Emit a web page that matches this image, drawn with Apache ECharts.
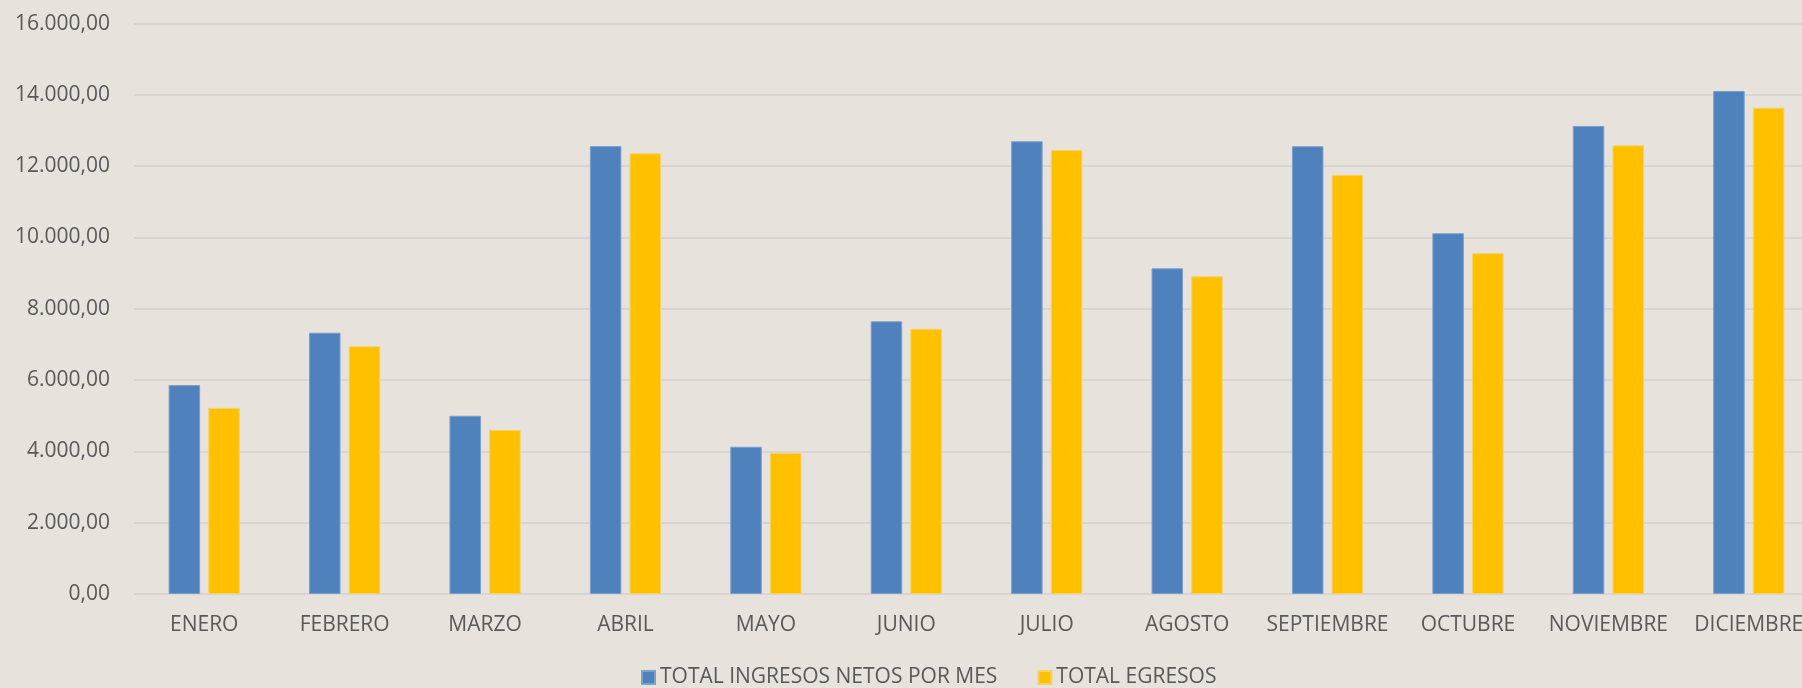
<!DOCTYPE html>
<html>
<head>
<meta charset="utf-8">
<script src="https://cdn.jsdelivr.net/npm/echarts@6/dist/echarts.min.js"></script>
<style>
  html, body { margin: 0; padding: 0; background: #e7e2dc; }
  #main { width: 1802px; height: 688px; }
</style>
</head>
<body>
<div id="main"></div>
<script>
// datos del gráfico
var meses = ["ENERO", "FEBRERO", "MARZO", "ABRIL", "MAYO", "JUNIO", "JULIO", "AGOSTO", "SEPTIEMBRE", "OCTUBRE", "NOVIEMBRE", "DICIEMBRE"];
var ingresos = [5860, 7330, 5000, 12565, 4130, 7650, 12700, 9135, 12560, 10120, 13130, 14110];
var egresos = [5220, 6950, 4600, 12360, 3955, 7440, 12455, 8910, 11755, 9560, 12585, 13640];
var nombreIngresos = "TOTAL INGRESOS NETOS POR MES";
var nombreEgresos = "TOTAL EGRESOS";

function formatoNumero(v) {
  // 16000 -> "16.000,00"
  var s = String(Math.round(v));
  s = s.replace(/\B(?=(\d{3})+(?!\d))/g, ".");
  return s + ",00";
}

var chart = echarts.init(document.getElementById("main"));
var fuente = "'Open Sans', 'Noto Sans', sans-serif";

var option = {
  backgroundColor: "#e7e2dc",
  animation: false,
  textStyle: { fontFamily: fuente },
  grid: {
    left: 134,
    right: -17,
    top: 23.6,
    bottom: 94,
    outerBoundsMode: "none",
    containLabel: false
  },
  legend: {
    left: 641,
    top: 667,
    padding: 0,
    itemWidth: 13,
    itemHeight: 13,
    itemGap: 40,
    icon: "rect",
    textStyle: { color: "#595959", fontSize: 21, fontFamily: fuente },
    data: [nombreIngresos, nombreEgresos]
  },
  xAxis: {
    type: "category",
    data: meses,
    axisLine: { show: false },
    axisTick: { show: false },
    axisLabel: {
      color: "#595959",
      fontSize: 21,
      lineHeight: 21,
      margin: 21,
      interval: 0,
      hideOverlap: false,
      fontFamily: fuente
    }
  },
  yAxis: {
    type: "value",
    min: 0,
    max: 16000,
    interval: 2000,
    axisLine: { show: false },
    axisTick: { show: false },
    axisLabel: {
      color: "#595959",
      fontSize: 21,
      margin: 24,
      fontFamily: fuente,
      formatter: formatoNumero
    },
    splitLine: {
      lineStyle: { color: "#d8d5d2", width: 2 }
    }
  },
  series: [
    {
      name: nombreIngresos,
      type: "bar",
      data: ingresos,
      barWidth: 31.5,
      barGap: "26%",
      itemStyle: { color: "#4f81bd", borderColor: "#7c9fcc", borderWidth: 1 }
    },
    {
      name: nombreEgresos,
      type: "bar",
      data: egresos,
      barWidth: 31.5,
      itemStyle: { color: "#ffc000", borderColor: "#f5d266", borderWidth: 1 }
    }
  ]
};

chart.setOption(option);
</script>
</body>
</html>
